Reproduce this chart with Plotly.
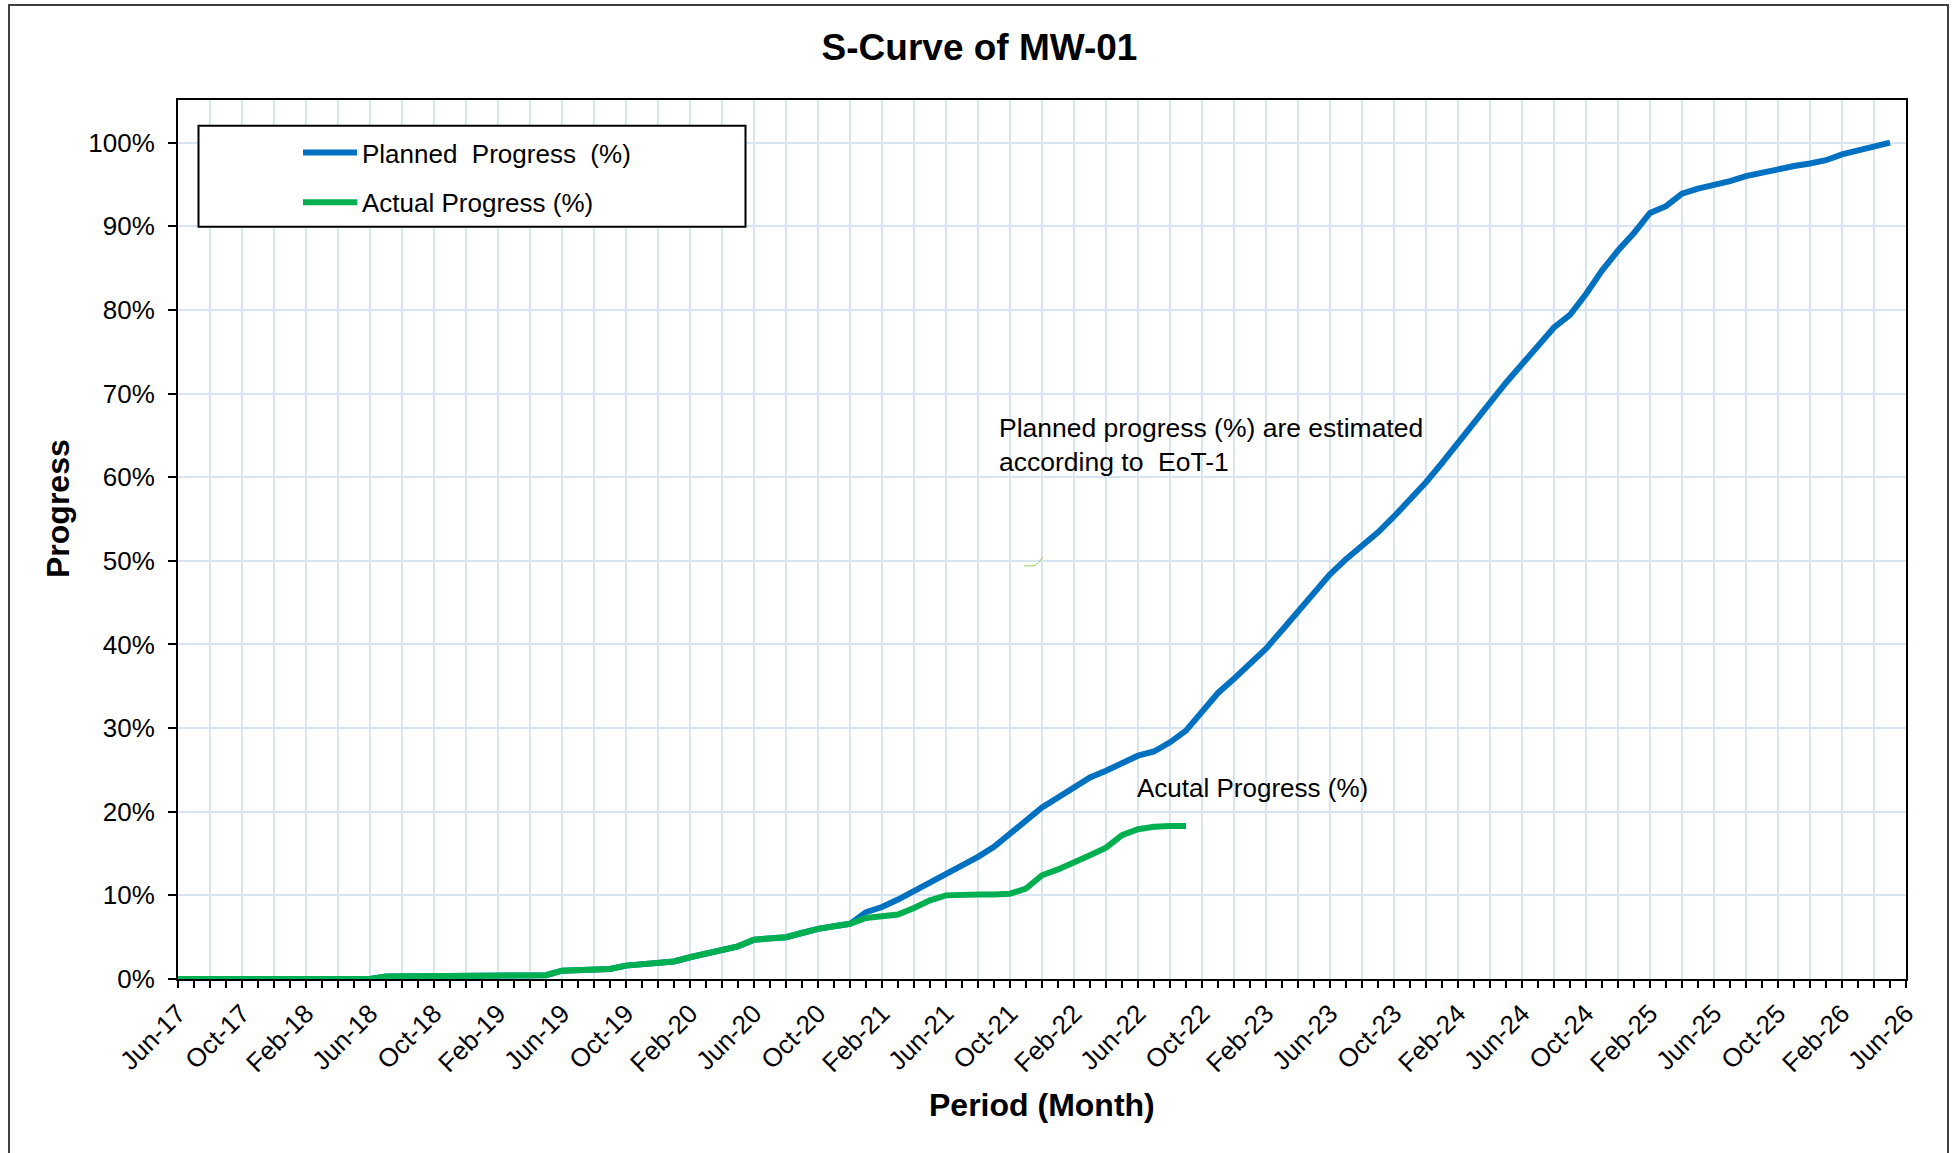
import plotly.graph_objects as go

FONT = "Liberation Sans, Arial, Helvetica, sans-serif"

# Cumulative progress (%), one value per month, first value = Jun-17
planned_pct = [
    0.0, 0.0, 0.0, 0.0, 0.0, 0.0, 0.0, 0.0, 0.0, 0.0, 0.0, 0.0, 0.0,
    0.3, 0.3, 0.3, 0.3, 0.3, 0.3,
    0.45, 0.45, 0.45, 0.45, 0.45,
    1.0, 1.1, 1.15, 1.2, 1.6, 1.75, 1.9, 2.1, 2.6, 3.0, 3.4, 3.9,
    4.7, 4.8, 5.0, 5.5, 6.0, 6.3, 6.6,
    8.0, 8.6, 9.5, 10.5, 11.5, 12.5, 13.4, 14.6, 15.8, 17.3,
    18.9, 20.5, 21.7, 23.0, 24.1, 24.9, 25.9, 26.7, 27.2, 28.3,
    29.7, 31.9, 34.2, 35.9, 37.6, 39.5, 41.7, 44.0, 46.3, 48.4,
    50.2, 51.7, 53.4, 55.3, 57.3, 59.4, 61.7, 64.1, 66.5, 69.0,
    71.3, 73.5, 75.7, 77.9, 79.4, 81.9, 84.7, 87.1, 89.2, 91.6,
    92.4, 93.9, 94.5, 94.9, 95.4, 96.0, 96.4, 96.9, 97.2, 97.5,
    97.9, 98.6, 99.1, 99.6, 100.0,
]

actual_pct = [
    0.0, 0.0, 0.0, 0.0, 0.0, 0.0, 0.0, 0.0, 0.0, 0.0, 0.0, 0.0, 0.0,
    0.3, 0.3, 0.3, 0.3, 0.3, 0.3,
    0.45, 0.45, 0.45, 0.45, 0.45,
    1.0, 1.1, 1.15, 1.2, 1.6, 1.75, 1.9, 2.1, 2.6, 3.0, 3.4, 3.9,
    4.7, 4.8, 5.0, 5.5, 6.0, 6.3, 6.6, 7.3, 7.5, 7.7, 8.5, 9.4,
    10.0, 10.1, 10.1, 10.1, 10.2, 10.8, 12.4, 13.1, 13.9, 14.8, 15.7, 17.2,
    17.9, 18.2, 18.3, 18.3,
]

# Month labels shown every 4 months along the period axis (Jun-17 .. Jun-26)
tick_labels = [
    "Jun-17", "Oct-17", "Feb-18", "Jun-18", "Oct-18", "Feb-19", "Jun-19",
    "Oct-19", "Feb-20", "Jun-20", "Oct-20", "Feb-21", "Jun-21", "Oct-21",
    "Feb-22", "Jun-22", "Oct-22", "Feb-23", "Jun-23", "Oct-23", "Feb-24",
    "Jun-24", "Oct-24", "Feb-25", "Jun-25", "Oct-25", "Feb-26", "Jun-26",
]

progress_ticks = [0, 10, 20, 30, 40, 50, 60, 70, 80, 90, 100]
progress_labels = ["0%", "10%", "20%", "30%", "40%", "50%",
                   "60%", "70%", "80%", "90%", "100%"]

# month index 0 = Jun-17
planned_x = list(range(len(planned_pct)))
actual_x = list(range(len(actual_pct)))
n_months = 4 * (len(tick_labels) - 1)

# gridlines every 2 months, labels every 4 months
grid_vals = list(range(0, n_months + 1, 2))
grid_text = [tick_labels[v // 4] if v % 4 == 0 else "" for v in grid_vals]

BLUE = "#0070C0"
GREEN = "#00B050"
GRID = "#D9E4F3"

fig = go.Figure()
fig.add_trace(go.Scatter(
    x=planned_x, y=planned_pct, mode="lines",
    name="Planned\u00a0\u00a0Progress\u00a0\u00a0(%)", legendgroup="planned",
    line=dict(color=BLUE, width=6),
))
fig.add_trace(go.Scatter(
    x=actual_x, y=actual_pct, mode="lines",
    name="Actual Progress (%)", legendgroup="actual",
    line=dict(color=GREEN, width=6),
))

# plot-area geometry in pixels (used to place paper-referenced items)
W, H = 1959, 1153
L, R, T, B = 178, 53, 100, 174
PW, PH = W - L - R, H - T - B


def px_x(p):
    return (p - L) / PW


def px_y(p):
    return (H - B - p) / PH


fig.update_layout(
    width=W, height=H,
    margin=dict(l=L, r=R, t=T, b=B),
    paper_bgcolor="white", plot_bgcolor="white",
    font=dict(family=FONT, color="black", size=26),
    title=dict(
        text="<b>S-Curve of MW-01</b>",
        x=0.5, xref="container", xanchor="center",
        y=1 - 47.5 / H, yref="container", yanchor="middle",
        font=dict(size=37, family=FONT, color="black"),
    ),
    showlegend=True,
    legend=dict(
        x=px_x(298), y=px_y(129), xanchor="left", yanchor="top",
        bgcolor="rgba(0,0,0,0)", borderwidth=0,
        font=dict(size=26, family=FONT, color="black"),
        itemwidth=54, traceorder="grouped", tracegroupgap=13,
    ),
    xaxis=dict(
        range=[0, n_months],
        tickmode="array", tickvals=grid_vals, ticktext=grid_text,
        tickangle=-45, ticks="outside", ticklen=7, tickwidth=1.5, tickcolor="black",
        ticklabelstandoff=0,
        tickfont=dict(size=26, family=FONT, color="black"),
        minor=dict(tickmode="linear", tick0=0, dtick=1, ticks="outside",
                   ticklen=7, tickwidth=1.5, tickcolor="black", showgrid=False),
        showgrid=True, gridcolor=GRID, gridwidth=1.5,
        showline=True, linecolor="black", linewidth=2, mirror=True,
        zeroline=False,
    ),
    yaxis=dict(
        range=[0, 105.1],
        tickmode="array", tickvals=progress_ticks, ticktext=progress_labels,
        ticks="outside", ticklen=8, tickwidth=1.5, tickcolor="black",
        ticklabelstandoff=8,
        tickfont=dict(size=26, family=FONT, color="black"),
        showgrid=True, gridcolor=GRID, gridwidth=1.5,
        showline=True, linecolor="black", linewidth=2, mirror=True,
        zeroline=False,
    ),
    # inner half of the cross-style tick marks on the progress axis
    yaxis2=dict(
        overlaying="y", anchor="x", side="left",
        range=[0, 105.1], tickmode="array", tickvals=progress_ticks,
        ticks="inside", ticklen=8, tickwidth=1.5, tickcolor="black",
        showticklabels=False, showgrid=False, showline=False, zeroline=False,
    ),
)

shapes = [
    # outer chart frame
    dict(type="rect", xref="paper", yref="paper",
         x0=px_x(9), x1=px_x(1948), y0=-0.3, y1=px_y(5),
         line=dict(color="#404040", width=2), fillcolor="rgba(0,0,0,0)",
         layer="below"),
    # legend box
    dict(type="rect", xref="paper", yref="paper",
         x0=px_x(198.5), x1=px_x(745.5), y0=px_y(226.7), y1=px_y(125.7),
         line=dict(color="black", width=2), fillcolor="white", layer="above"),
    # small stray connector stroke near the note
    dict(type="path", xref="x", yref="y",
         path="M 52.9 49.4 L 53.5 49.4 Q 53.8 49.6 54.06 50.5",
         line=dict(color="#92D050", width=1)),
]
fig.update_layout(shapes=shapes)

annotations = [
    dict(text="<b>Progress</b>", xref="paper", yref="paper",
         x=px_x(57.5), y=px_y(508.5), xanchor="center", yanchor="middle",
         textangle=-90, showarrow=False,
         font=dict(size=32, family=FONT, color="black")),
    dict(text="<b>Period (Month)</b>", xref="paper", yref="paper",
         x=0.5, y=px_y(1104.5), xanchor="center", yanchor="middle",
         showarrow=False, font=dict(size=32, family=FONT, color="black")),
    dict(text="Planned progress (%) are estimated<br>according to\u00a0\u00a0EoT-1",
         xref="paper", yref="paper", x=px_x(997), y=px_y(445),
         xanchor="left", yanchor="middle", align="left", showarrow=False,
         font=dict(size=26.5, family=FONT, color="black")),
    dict(text="Acutal Progress (%)", xref="paper", yref="paper",
         x=px_x(1135), y=px_y(788), xanchor="left", yanchor="middle",
         showarrow=False, font=dict(size=26, family=FONT, color="black")),
]
fig.update_layout(annotations=annotations)

fig.write_html("out.html")
